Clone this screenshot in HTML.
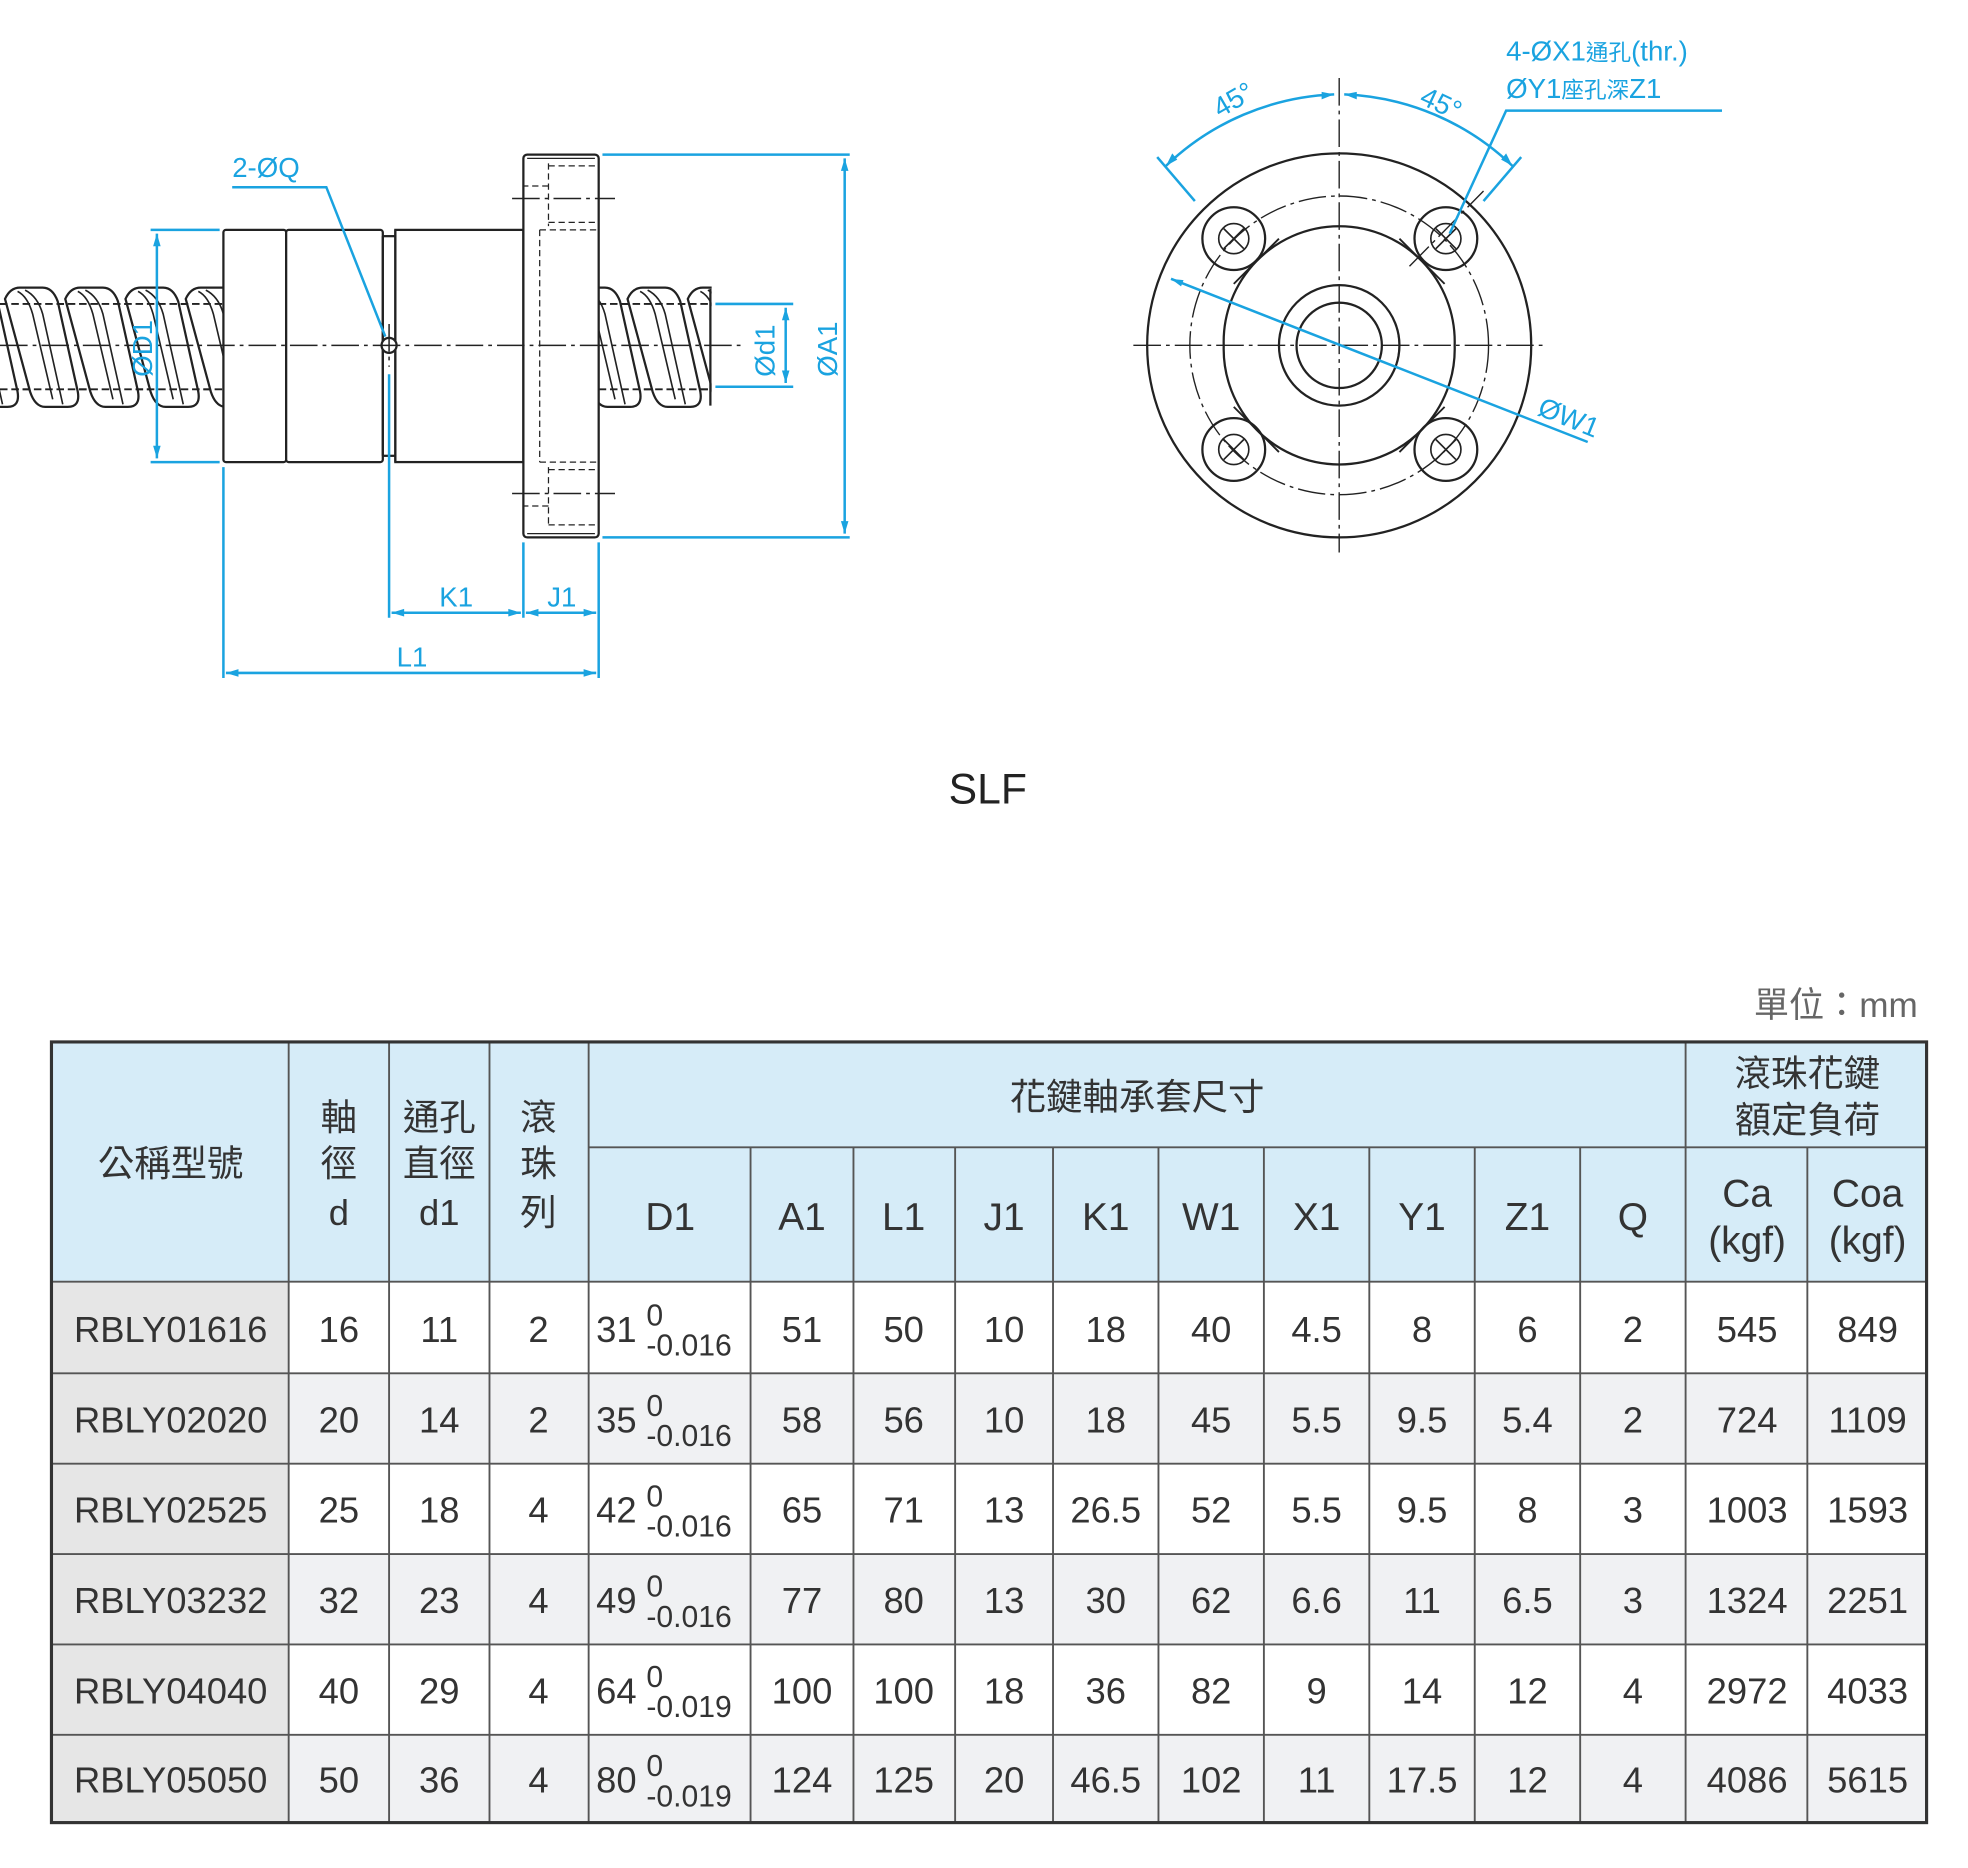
<!DOCTYPE html>
<html><head><meta charset="utf-8"><style>
html,body{margin:0;padding:0;background:#fff;width:1968px;height:1868px;overflow:hidden}
svg{display:block}
text{font-family:"Liberation Sans","Noto Sans CJK TC",sans-serif}
</style></head><body>
<svg width="1968" height="1868" viewBox="0 0 1568 1488" xmlns="http://www.w3.org/2000/svg">
<defs>
<clipPath id="cl"><rect x="0" y="226" width="178" height="101"/></clipPath>
<clipPath id="cr"><rect x="477" y="226" width="90" height="101"/></clipPath>
<g id="thr">
<path d="M0,238 Q4,229 12,229 L30,229 Q38,229 42,240 L58,312 Q60,324 50,324 L32,324 Q24,324 20,312 Z" fill="#fff" stroke="#222" stroke-width="1.8"/>
<path d="M10,232 Q18,236 22,250 L38,318 M16,231 Q26,236 30,250 L46,322" stroke="#222" stroke-width="1.3" fill="none"/>
</g>
</defs>
<g fill="none" stroke="#222" stroke-width="1.5" stroke-dasharray="6 3">
<line x1="0" y1="242" x2="178" y2="242"/><line x1="0" y1="310" x2="178" y2="310"/>
<line x1="477" y1="242" x2="567" y2="242"/><line x1="477" y1="310" x2="567" y2="310"/>
</g>
<g clip-path="url(#cl)">
<use href="#thr" x="-44"/><use href="#thr" x="4"/><use href="#thr" x="52"/><use href="#thr" x="100"/><use href="#thr" x="148"/>
</g>
<g clip-path="url(#cr)">
<use href="#thr" x="452"/><use href="#thr" x="500"/><use href="#thr" x="548"/>
</g>
<g fill="none" stroke="#222" stroke-width="1.5" stroke-dasharray="6 3">
<line x1="0" y1="242" x2="178" y2="242"/><line x1="0" y1="310" x2="178" y2="310"/>
<line x1="477" y1="242" x2="567" y2="242"/><line x1="477" y1="310" x2="567" y2="310"/>
</g>
<line x1="566" y1="230" x2="566" y2="323" stroke="#222" stroke-width="1.8"/>
<g fill="#fff" stroke="#222" stroke-width="1.8">
<rect x="178" y="183" width="50" height="185" rx="2"/>
<rect x="228" y="183" width="77" height="185" rx="2"/>
<rect x="315" y="183" width="102" height="185"/>
<line x1="305" y1="188" x2="315" y2="188"/><line x1="305" y1="363" x2="315" y2="363"/>
<line x1="305" y1="188" x2="305" y2="363"/><line x1="315" y1="183" x2="315" y2="368"/>
<rect x="417" y="123" width="60" height="305" rx="3"/>
<line x1="420" y1="126" x2="474" y2="126" stroke-width="1"/>
<line x1="420" y1="425" x2="474" y2="425" stroke-width="1"/>
<circle cx="310" cy="275" r="6"/>
</g>
<g fill="none" stroke="#222" stroke-width="1" stroke-dasharray="5 3">
<line x1="430" y1="183" x2="430" y2="368"/><line x1="430" y1="183" x2="477" y2="183"/><line x1="430" y1="368" x2="477" y2="368"/>
<path d="M437,130 V180 M437,132 H475 M437,177 H475 M437,148 H417"/>
<path d="M437,372 V420 M437,374 H475 M437,418 H475 M437,403 H417"/>
</g>
<g stroke="#222" stroke-width="1.2" stroke-dasharray="22 4 3 4">
<line x1="0" y1="275" x2="592" y2="275"/>
<line x1="408" y1="158" x2="490" y2="158"/><line x1="408" y1="393" x2="490" y2="393"/>
<line x1="310" y1="258" x2="310" y2="292"/>
</g>
<g stroke="#1aa3e0" stroke-width="2" fill="none">
<line x1="120" y1="183" x2="175" y2="183"/><line x1="120" y1="368" x2="175" y2="368"/>
<line x1="125" y1="186" x2="125" y2="365"/>
<line x1="570" y1="242" x2="632" y2="242"/><line x1="570" y1="308" x2="632" y2="308"/>
<line x1="626" y1="245" x2="626" y2="305"/>
<line x1="480" y1="123" x2="677" y2="123"/><line x1="480" y1="428" x2="677" y2="428"/>
<line x1="673" y1="126" x2="673" y2="425"/>
<line x1="310" y1="298" x2="310" y2="492"/><line x1="417" y1="432" x2="417" y2="492"/>
<line x1="477" y1="432" x2="477" y2="540"/><line x1="178" y1="372" x2="178" y2="540"/>
<line x1="312" y1="488" x2="415" y2="488"/><line x1="419" y1="488" x2="475" y2="488"/>
<line x1="180" y1="536" x2="475" y2="536"/>
<polyline points="185,149 260,149 307,268"/>
</g>
<g fill="#1aa3e0">
<path d="M125,186 l-3,10 h6z M125,365 l-3,-10 h6z M626,245 l-3,10 h6z M626,305 l-3,-10 h6z M673,126 l-3,10 h6z M673,425 l-3,-10 h6z"/>
<path d="M312,488 l10,-3 v6z M415,488 l-10,-3 v6z M419,488 l10,-3 v6z M475,488 l-10,-3 v6z M180,536 l10,-3 v6z M475,536 l-10,-3 v6z"/>
</g>
<g fill="#1aa3e0" font-size="22">
<text x="185" y="141">2-ØQ</text>
<text x="350" y="483">K1</text>
<text x="436" y="483">J1</text>
<text x="316" y="531">L1</text>
<text transform="translate(121,300) rotate(-90)">ØD1</text>
<text transform="translate(617,300) rotate(-90)">Ød1</text>
<text transform="translate(667,300) rotate(-90)">ØA1</text>
</g>
<g fill="none" stroke="#222" stroke-width="1.8">
<circle cx="1067" cy="275" r="153"/>
<circle cx="1067" cy="275" r="48"/>
<circle cx="1067" cy="275" r="34"/>
<circle cx="983" cy="190" r="25"/><circle cx="1152" cy="190" r="25"/>
<circle cx="983" cy="358" r="25"/><circle cx="1152" cy="358" r="25"/>
<g stroke-width="1.3"><circle cx="983" cy="190" r="12"/><circle cx="1152" cy="190" r="12"/><circle cx="983" cy="358" r="12"/><circle cx="1152" cy="358" r="12"/>
<path d="M975,182 l16,16 M991,182 l-16,16 M1144,182 l16,16 M1160,182 l-16,16 M975,350 l16,16 M991,350 l-16,16 M1144,350 l16,16 M1160,350 l-16,16"/></g>
<path d="M1001,208 A92,92 0 0 0 975,275 A92,92 0 0 0 1001,342 M1133,208 A92,92 0 0 1 1159,275 A92,92 0 0 1 1133,342 M1001,208 A92 92 0 0 1 1133,208 M1001,342 A92 92 0 0 0 1133,342"/>
<path d="M1001,208 L1019,190 M1001,208 L983,226 M1133,208 L1115,190 M1133,208 L1151,226 M1001,342 L1019,360 M1001,342 L983,324 M1133,342 L1115,360 M1133,342 L1151,324" stroke-width="1.5"/>
</g>
<g fill="none" stroke="#222" stroke-width="1.1" stroke-dasharray="22 4 3 4">
<circle cx="1067" cy="275" r="119"/>
<line x1="903" y1="275" x2="1230" y2="275"/>
<line x1="1067" y1="62" x2="1067" y2="440"/>
<line x1="1123" y1="212" x2="1182" y2="152"/>
</g>
<g stroke="#1aa3e0" stroke-width="2" fill="none">
<path d="M929,132 A205,205 0 0 1 1063,75"/>
<path d="M1071,75 A205,205 0 0 1 1205,132"/>
<line x1="952" y1="160" x2="922" y2="125"/><line x1="1182" y1="160" x2="1212" y2="125"/>
<line x1="933" y1="222" x2="1265" y2="352"/>
<polyline points="1155,186 1200,88 1372,88"/>
</g>
<g fill="#1aa3e0">
<path d="M929,132 l5,-10 l4,5z M1063,75 l-10,-2 v6z M1071,75 l10,-2 v6z M1205,132 l-5,-10 l-4,5z M933,222 l10,1 l-2,5z"/>
</g>
<g fill="#1aa3e0" font-size="22">
<text transform="translate(972,94) rotate(-30)">45°</text>
<text transform="translate(1130,82) rotate(25)">45°</text>
<text transform="translate(1224,330) rotate(22)">ØW1</text>
<text x="1200" y="48">4-ØX1<tspan font-size="18">通孔</tspan>(thr.)</text>
<text x="1200" y="78">ØY1<tspan font-size="18">座孔深</tspan>Z1</text>
</g>
<text x="787" y="640" font-size="34" fill="#222" text-anchor="middle">SLF</text>
<text x="1528" y="810" font-size="28" fill="#666" text-anchor="end">單位：mm</text>
<rect x="41" y="830" width="1494" height="191" fill="#d6ecf8"/>
<rect x="41" y="1021" width="189" height="431" fill="#e6e6e6"/>
<rect x="230" y="1094" width="1305" height="72" fill="#f0f1f3"/>
<rect x="230" y="1238" width="1305" height="72" fill="#f0f1f3"/>
<rect x="230" y="1382" width="1305" height="70" fill="#f0f1f3"/>
<g stroke="#555" stroke-width="1.5">
<line x1="469" y1="914" x2="1535" y2="914"/>
<line x1="41" y1="1021" x2="1535" y2="1021"/>
<line x1="41" y1="1094" x2="1535" y2="1094"/><line x1="41" y1="1166" x2="1535" y2="1166"/>
<line x1="41" y1="1238" x2="1535" y2="1238"/><line x1="41" y1="1310" x2="1535" y2="1310"/>
<line x1="41" y1="1382" x2="1535" y2="1382"/>
<line x1="230" y1="830" x2="230" y2="1452"/><line x1="310" y1="830" x2="310" y2="1452"/>
<line x1="390" y1="830" x2="390" y2="1452"/><line x1="469" y1="830" x2="469" y2="1452"/>
<line x1="1343" y1="830" x2="1343" y2="1452"/>
<line x1="598" y1="914" x2="598" y2="1452"/><line x1="680" y1="914" x2="680" y2="1452"/>
<line x1="761" y1="914" x2="761" y2="1452"/><line x1="839" y1="914" x2="839" y2="1452"/>
<line x1="923" y1="914" x2="923" y2="1452"/><line x1="1007" y1="914" x2="1007" y2="1452"/>
<line x1="1091" y1="914" x2="1091" y2="1452"/><line x1="1175" y1="914" x2="1175" y2="1452"/>
<line x1="1259" y1="914" x2="1259" y2="1452"/><line x1="1440" y1="914" x2="1440" y2="1452"/>
</g>
<rect x="41" y="830" width="1494" height="622" fill="none" stroke="#333" stroke-width="2.5"/>
<g font-size="29" fill="#333" text-anchor="middle">
<text x="136" y="937">公稱型號</text>
<text x="270" y="900">軸</text><text x="270" y="937">徑</text><text x="270" y="976">d</text>
<text x="350" y="900">通孔</text><text x="350" y="937">直徑</text><text x="350" y="976">d1</text>
<text x="429" y="900">滾</text><text x="429" y="937">珠</text><text x="429" y="976">列</text>
<text x="906" y="884">花鍵軸承套尺寸</text>
<text x="1440" y="865">滾珠花鍵</text><text x="1440" y="902">額定負荷</text>
<g font-size="31"><text x="534" y="980">D1</text><text x="639" y="980">A1</text><text x="720" y="980">L1</text><text x="800" y="980">J1</text><text x="881" y="980">K1</text><text x="965" y="980">W1</text><text x="1049" y="980">X1</text><text x="1133" y="980">Y1</text><text x="1217" y="980">Z1</text><text x="1301" y="980">Q</text>
<text x="1392" y="961">Ca</text><text x="1392" y="999">(kgf)</text><text x="1488" y="961">Coa</text><text x="1488" y="999">(kgf)</text></g>
<g font-size="29">
<text x="136" y="1069">RBLY01616</text><text x="136" y="1141">RBLY02020</text><text x="136" y="1213">RBLY02525</text><text x="136" y="1285">RBLY03232</text><text x="136" y="1357">RBLY04040</text><text x="136" y="1428">RBLY05050</text>
<g><text x="270" y="1069">16</text><text x="350" y="1069">11</text><text x="429" y="1069">2</text><text x="639" y="1069">51</text><text x="720" y="1069">50</text><text x="800" y="1069">10</text><text x="881" y="1069">18</text><text x="965" y="1069">40</text><text x="1049" y="1069">4.5</text><text x="1133" y="1069">8</text><text x="1217" y="1069">6</text><text x="1301" y="1069">2</text><text x="1392" y="1069">545</text><text x="1488" y="1069">849</text></g>
<g><text x="270" y="1141">20</text><text x="350" y="1141">14</text><text x="429" y="1141">2</text><text x="639" y="1141">58</text><text x="720" y="1141">56</text><text x="800" y="1141">10</text><text x="881" y="1141">18</text><text x="965" y="1141">45</text><text x="1049" y="1141">5.5</text><text x="1133" y="1141">9.5</text><text x="1217" y="1141">5.4</text><text x="1301" y="1141">2</text><text x="1392" y="1141">724</text><text x="1488" y="1141">1109</text></g>
<g><text x="270" y="1213">25</text><text x="350" y="1213">18</text><text x="429" y="1213">4</text><text x="639" y="1213">65</text><text x="720" y="1213">71</text><text x="800" y="1213">13</text><text x="881" y="1213">26.5</text><text x="965" y="1213">52</text><text x="1049" y="1213">5.5</text><text x="1133" y="1213">9.5</text><text x="1217" y="1213">8</text><text x="1301" y="1213">3</text><text x="1392" y="1213">1003</text><text x="1488" y="1213">1593</text></g>
<g><text x="270" y="1285">32</text><text x="350" y="1285">23</text><text x="429" y="1285">4</text><text x="639" y="1285">77</text><text x="720" y="1285">80</text><text x="800" y="1285">13</text><text x="881" y="1285">30</text><text x="965" y="1285">62</text><text x="1049" y="1285">6.6</text><text x="1133" y="1285">11</text><text x="1217" y="1285">6.5</text><text x="1301" y="1285">3</text><text x="1392" y="1285">1324</text><text x="1488" y="1285">2251</text></g>
<g><text x="270" y="1357">40</text><text x="350" y="1357">29</text><text x="429" y="1357">4</text><text x="639" y="1357">100</text><text x="720" y="1357">100</text><text x="800" y="1357">18</text><text x="881" y="1357">36</text><text x="965" y="1357">82</text><text x="1049" y="1357">9</text><text x="1133" y="1357">14</text><text x="1217" y="1357">12</text><text x="1301" y="1357">4</text><text x="1392" y="1357">2972</text><text x="1488" y="1357">4033</text></g>
<g><text x="270" y="1428">50</text><text x="350" y="1428">36</text><text x="429" y="1428">4</text><text x="639" y="1428">124</text><text x="720" y="1428">125</text><text x="800" y="1428">20</text><text x="881" y="1428">46.5</text><text x="965" y="1428">102</text><text x="1049" y="1428">11</text><text x="1133" y="1428">17.5</text><text x="1217" y="1428">12</text><text x="1301" y="1428">4</text><text x="1392" y="1428">4086</text><text x="1488" y="1428">5615</text></g>
</g>
</g>
<g fill="#333" font-size="29">
<text x="475" y="1069">31</text><text x="475" y="1141">35</text><text x="475" y="1213">42</text><text x="475" y="1285">49</text><text x="475" y="1357">64</text><text x="475" y="1428">80</text>
</g>
<g fill="#333" font-size="24">
<text x="515" y="1056">0</text><text x="515" y="1080">-0.016</text>
<text x="515" y="1128">0</text><text x="515" y="1152">-0.016</text>
<text x="515" y="1200">0</text><text x="515" y="1224">-0.016</text>
<text x="515" y="1272">0</text><text x="515" y="1296">-0.016</text>
<text x="515" y="1344">0</text><text x="515" y="1368">-0.019</text>
<text x="515" y="1415">0</text><text x="515" y="1439">-0.019</text>
</g>
</svg>
</body></html>
